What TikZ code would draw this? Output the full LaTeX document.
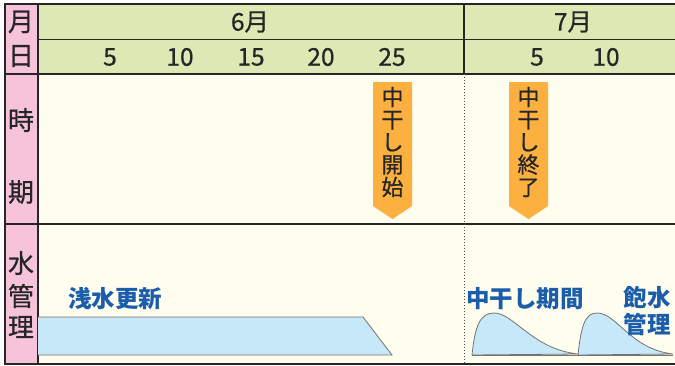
\documentclass[tikz,border=0pt]{standalone}
\usepackage{fontspec}
\setmainfont{Noto Sans CJK JP}
\newfontfamily\medfont{Noto Sans CJK JP}[FakeBold=0.7]
\definecolor{hdgreen}{HTML}{DDE9B5}
\definecolor{sidepink}{HTML}{F7C3DB}
\definecolor{paper}{HTML}{FFFDEE}
\definecolor{flag}{HTML}{FBB040}
\definecolor{water}{HTML}{C7E8F8}
\definecolor{waterlbl}{HTML}{1A5EAB}
\begin{document}
\begin{tikzpicture}[x=1pt,y=-1pt,
    frame/.style={draw=black!85,line width=1.3pt},
    side/.style={font=\medfont\fontsize{26}{28}\selectfont,text=black!85},
    daylbl/.style={font=\medfont\fontsize{24.5}{28}\selectfont,text=black!85},
    flagtxt/.style={font=\medfont\fontsize{22}{22.5}\selectfont,text=black!85,align=center},
    wlbl/.style={font=\bfseries\fontsize{23.5}{26.5}\selectfont,text=waterlbl,align=center},
    wshape/.style={fill=water,draw=black!55,line width=0.8pt}]
    \useasboundingbox (0,0) rectangle (675,365);
    % backgrounds
    \fill[sidepink] (5,4) rectangle (38,364);
    \fill[hdgreen] (38,4) rectangle (675,74);
    \fill[paper] (38,74) rectangle (675,364);
    % grid lines
    \draw[frame] (675,4) -- (5,4) -- (5,364) -- (675,364);
    \draw[frame] (38,4) -- (38,364);
    \draw[frame] (5,74) -- (675,74);
    \draw[frame] (5,224) -- (675,224);
    \draw[draw=black!85,line width=0.9pt] (38,39) -- (675,39);
    \draw[frame] (464,4) -- (464,74);
    \draw[black!70,dotted,line width=1pt] (464,74) -- (464,364);
    % left column
    \node[side] (mon) at (21,22) {月};
    \node[side] (day) at (21,56) {日};
    \node[side] (ji) at (21,120) {時};
    \node[side] (ki) at (21,192) {期};
    \node[side] (sui) at (21,263) {水};
    \node[side] (kan) at (21,296) {管};
    \node[side] (ri) at (21,327) {理};
    % header
    \node[daylbl] (jun) at (250,22) {6月};
    \node[daylbl] (jul) at (573,22) {7月};
    \foreach \x/\d [count=\i] in {110/5,180/10,251/15,321/20,392/25,537/5,606/10}
        \node[daylbl] (d\i) at (\x,57) {\d};
    % flags
    \fill[flag] (373,82) -- (412,82) -- (412,206) -- (392.5,219) -- (373,206) -- cycle;
    \node[flagtxt] (start) at (392.5,142) {中\\干\\し\\開\\始};
    \fill[flag] (509,82) -- (548,82) -- (548,206) -- (528.5,219) -- (509,206) -- cycle;
    \node[flagtxt] (end) at (528.5,142) {中\\干\\し\\終\\了};
    % water
    \draw[wshape] (38,317) -- (363,317) -- (392,355) -- (38,355);
    \node[wlbl] (shallow) at (115,299) {浅水更新};
    \draw[wshape] (472,355) .. controls (475,326) and (480,313) .. (494,313)
        .. controls (514,313) and (532,349) .. (578,354) -- cycle;
    \draw[wshape] (578,355) .. controls (581,326) and (585,313) .. (597,313)
        .. controls (617,313) and (630,349) .. (673,354) -- cycle;
    \draw[black!55,line width=0.8pt] (472,355) -- (673,355);
    \node[wlbl] (dry) at (525,299) {中干し期間};
    \node[wlbl] (sat) at (647,311) {飽水\\管理};
\end{tikzpicture}
\end{document}
